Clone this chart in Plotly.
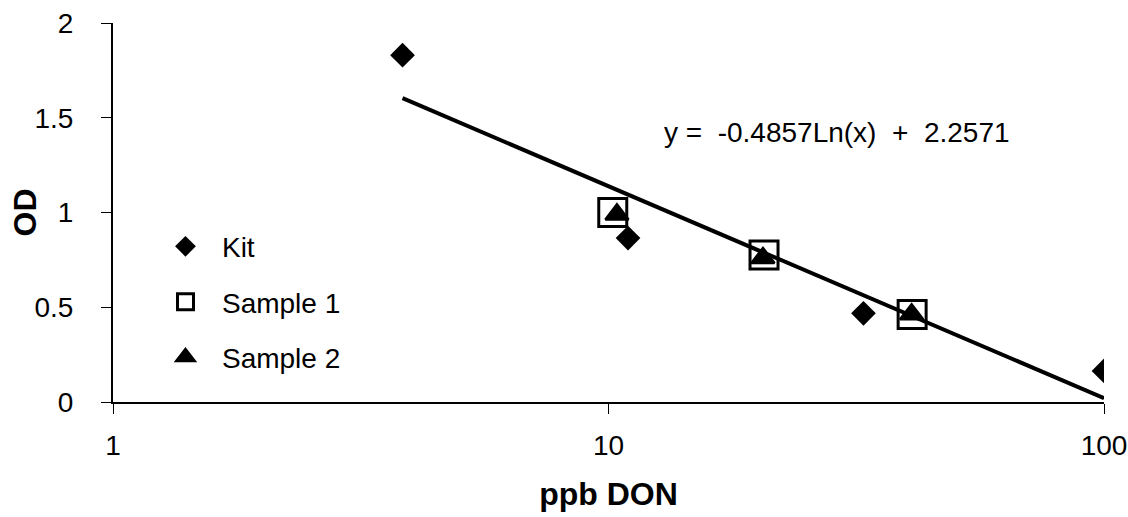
import numpy as np
import plotly.graph_objects as go

# Data
kit_x = [3.84, 10.95, 32.7, 100.0]
kit_y = [1.83, 0.865, 0.468, 0.164]
s1_x = [10.2, 20.6, 41.0]
s1_y = [1.0, 0.776, 0.462]
s2_x = [10.4, 20.5, 40.9]
s2_y = [0.99, 0.76, 0.463]

# Logarithmic trend line shown on the chart: y = a*ln(x) + b
trend_a = -0.4857
trend_b = 2.2571
trend_x_range = [3.84, 100.0]

x_ticks = [1, 10, 100]
y_ticks = [0, 0.5, 1, 1.5, 2]

FONT = "Arial, 'Liberation Sans', sans-serif"

tx = np.logspace(np.log10(trend_x_range[0]), np.log10(trend_x_range[1]), 50)
ty = trend_a * np.log(tx) + trend_b

fig = go.Figure()
fig.add_trace(go.Scatter(
    x=kit_x, y=kit_y, mode="markers", name="Kit", legendgroup="a",
    marker=dict(symbol="diamond", size=19, color="black", line=dict(width=0)),
))
fig.add_trace(go.Scatter(
    x=s1_x, y=s1_y, mode="markers", name="Sample 1", legendgroup="b",
    marker=dict(symbol="square-open", size=28, color="black", line=dict(width=3, color="black")),
))
fig.add_trace(go.Scatter(
    x=s2_x, y=s2_y, mode="markers", name="Sample 2", legendgroup="c",
    marker=dict(symbol="triangle-up", size=20, color="black", line=dict(width=2.5, color="black")),
))
fig.add_trace(go.Scatter(
    x=tx, y=ty, mode="lines", showlegend=False,
    line=dict(color="black", width=4),
))

fig.add_annotation(
    text="y = \u00a0-0.4857Ln(x) \u00a0+ \u00a02.2571",
    xref="paper", yref="paper", x=0.7306, y=0.7098,
    xanchor="center", yanchor="middle", showarrow=False,
    font=dict(family=FONT, size=28, color="black"),
)
fig.add_annotation(
    text="<b>OD</b>", textangle=-90,
    xref="paper", yref="paper", x=(24 - 113) / 991, y=0.5,
    xanchor="center", yanchor="middle", showarrow=False,
    font=dict(family=FONT, size=32, color="black"),
)

fig.update_layout(
    width=1128, height=517,
    margin=dict(l=113, r=24, t=23, b=115, autoexpand=False),
    paper_bgcolor="white", plot_bgcolor="white",
    font=dict(family=FONT, size=28, color="black"),
    showlegend=True,
    legend=dict(
        x=0.0363, y=0.476, xanchor="left", yanchor="top",
        bgcolor="rgba(0,0,0,0)", borderwidth=0,
        font=dict(family=FONT, size=28, color="black"),
        tracegroupgap=16,
        itemsizing="trace",
        itemwidth=63,
    ),
)
fig.update_xaxes(
    type="log", range=[0, 2], automargin=False,
    tickvals=x_ticks, ticktext=[str(v) for v in x_ticks],
    showgrid=False, zeroline=False,
    showline=True, linecolor="black", linewidth=2,
    ticks="outside", ticklen=10, tickwidth=1, tickcolor="black",
    ticklabelstandoff=7,
    tickfont=dict(family=FONT, size=28, color="black"),
    title=dict(text="<b>ppb DON</b>", font=dict(family=FONT, size=32, color="black"), standoff=23),
)
fig.update_yaxes(
    range=[0, 2], automargin=False,
    tickvals=y_ticks, ticktext=["0", "0.5", "1", "1.5", "2"],
    showgrid=False, zeroline=False,
    showline=True, linecolor="black", linewidth=2,
    ticks="outside", ticklen=10, tickwidth=1, tickcolor="black",
    ticklabelstandoff=22,
    tickfont=dict(family=FONT, size=28, color="black"),
)

fig.write_html("out.html")
